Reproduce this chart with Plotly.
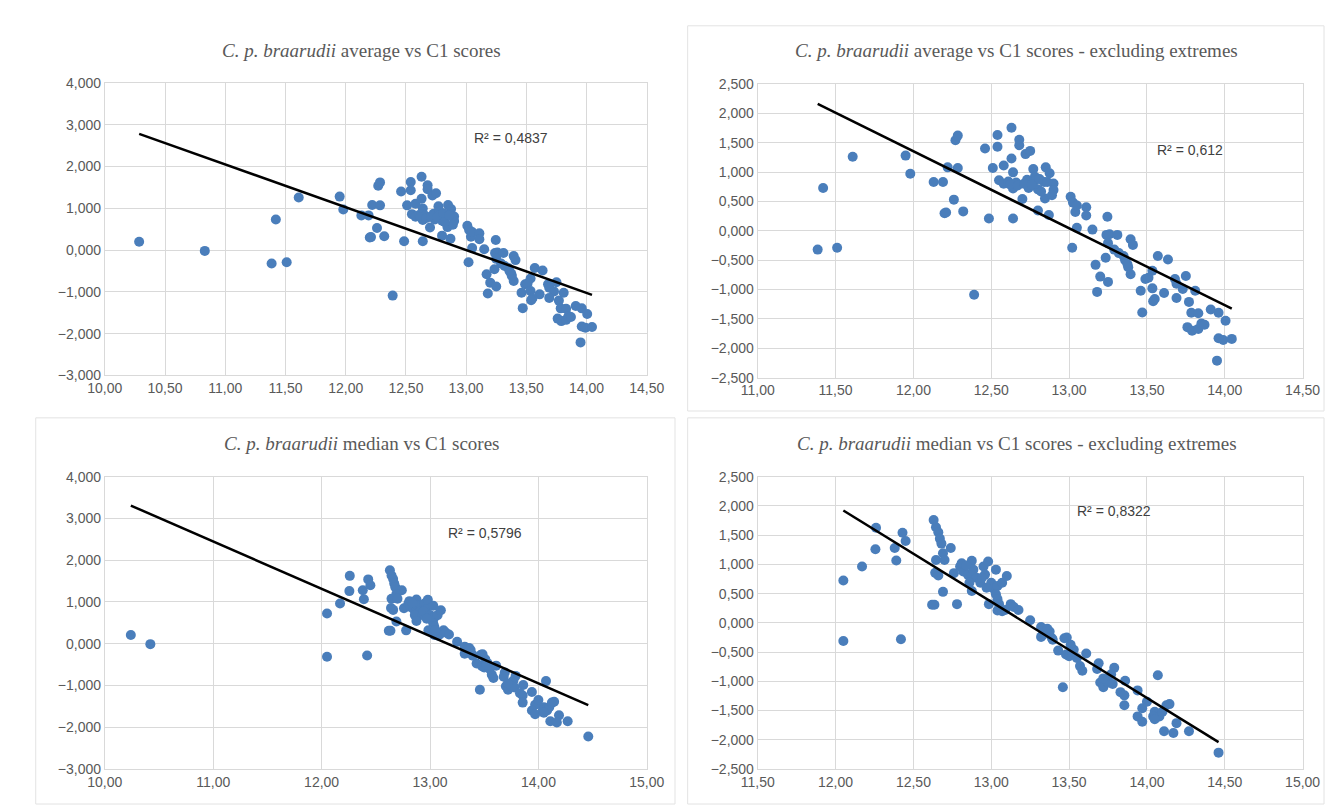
import numpy as np
import plotly.graph_objects as go

# ---------------- data ----------------
# C. p. braarudii average (x) vs C1 scores (y), extremes excluded
avg_x = [11.385, 11.42, 11.51, 11.61, 11.95, 11.98, 12.13, 12.19, 12.20, 12.21,
         12.22, 12.26, 12.27, 12.285, 12.285, 12.32, 12.39, 12.46, 12.485, 12.51,
         12.54, 12.54, 12.55, 12.58, 12.58, 12.61, 12.63, 12.63, 12.64, 12.64,
         12.64, 12.66, 12.68, 12.68, 12.70, 12.72, 12.75, 12.73, 12.74, 12.77,
         12.78, 12.775, 12.80, 12.80, 12.84, 12.85, 12.875, 12.845, 12.87, 12.90,
         12.90, 12.89, 12.62, 12.67, 12.71, 12.76, 12.81, 12.82, 12.86, 13.01,
         13.025, 13.04, 13.05, 13.11, 13.11, 13.05, 13.15, 13.02, 13.246, 13.24,
         13.26, 13.31, 13.25, 13.29, 13.235, 13.17, 13.20, 13.25, 13.18, 13.32,
         13.35, 13.375, 13.395, 13.395, 13.41, 13.57, 13.635, 13.535, 13.49, 13.51,
         13.46, 13.535, 13.61, 13.55, 13.54, 13.47, 13.68, 13.69, 13.73, 13.75,
         13.77, 13.81, 13.69, 13.785, 13.83, 13.76, 13.79, 13.83, 13.85, 13.87,
         13.91, 13.96, 14.005, 13.96, 13.99, 14.045, 13.95, 13.38, 13.36]
avg_y = [-0.32, 0.73, -0.29, 1.26, 1.28, 0.97, 0.83, 0.83, 0.30, 0.31,
         1.08, 0.53, 1.54, 1.62, 1.07, 0.33, -1.09, 1.40, 0.21, 1.07,
         1.63, 1.43, 0.86, 1.11, 0.80, 0.84, 1.755, 1.23, 0.995, 0.21,
         0.72, 0.82, 1.55, 1.455, 0.54, 1.305, 1.36, 0.87, 0.73, 1.05,
         0.92, 0.84, 0.345, 0.705, 0.83, 1.08, 0.98, 0.55, 0.27, 0.805,
         0.695, 0.605, 0.79, 0.77, 0.80, 0.79, 0.88, 0.67, 0.83, 0.58,
         0.48, 0.32, 0.43, 0.40, 0.26, 0.05, 0.02, -0.29, 0.24, -0.07,
         -0.06, -0.07, -0.21, -0.32, -0.46, -0.58, -0.78, -0.87, -1.04, -0.38,
         -0.43, -0.57, -0.74, -0.145, -0.24, -0.43, -0.49, -0.68, -0.82, -0.80,
         -1.02, -0.98, -1.06, -1.16, -1.20, -1.39, -0.82, -0.90, -0.99, -0.77,
         -1.21, -1.02, -1.145, -1.395, -1.405, -1.64, -1.70, -1.67, -1.58, -1.60,
         -1.34, -1.395, -1.53, -1.83, -1.86, -1.84, -2.21, -0.62, -0.50]
avg_ext_x = [10.285, 10.83]
avg_ext_y = [0.20, -0.02]

# C. p. braarudii median (x) vs C1 scores (y), extremes excluded
med_x = [12.05, 12.05, 12.17, 12.256, 12.26, 12.38, 12.39, 12.43, 12.45, 12.42,
         12.63, 12.645, 12.66, 12.67, 12.68, 12.74, 12.69, 12.645, 12.70, 12.64,
         12.66, 12.69, 12.62, 12.635, 12.78, 12.76, 12.80, 12.82, 12.81, 12.875,
         12.85, 12.875, 12.885, 12.905, 12.86, 12.93, 12.875, 12.95, 12.98, 12.96,
         12.94, 13.03, 13.00, 13.02, 13.04, 13.07, 13.10, 13.03, 13.04, 12.985,
         13.04, 13.07, 13.09, 13.125, 13.145, 13.175, 13.25, 13.32, 13.33, 13.375,
         13.39, 13.43, 13.47, 13.48, 13.32, 13.395, 13.485, 13.51, 13.53, 13.50,
         13.55, 13.46, 13.57, 13.585, 13.61, 13.69, 13.68, 13.79, 13.77, 13.70,
         13.72, 13.75, 13.78, 13.86, 13.83, 13.855, 13.855, 13.94, 13.97, 13.94,
         13.97, 14.00, 14.07, 14.05, 14.04, 14.08, 14.10, 14.125, 14.145, 14.19,
         14.05, 14.11, 14.17, 14.27, 14.46, 12.84, 12.97, 13.05, 13.36, 13.52,
         13.72]
med_y = [0.725, -0.31, 0.965, 1.26, 1.625, 1.28, 1.065, 1.54, 1.40, -0.28,
         1.76, 1.635, 1.55, 1.44, 1.355, 1.28, 1.19, 1.075, 1.075, 0.855,
         0.81, 0.53, 0.31, 0.31, 0.32, 0.85, 0.965, 0.88, 1.02, 1.06,
         0.825, 0.80, 0.91, 0.77, 0.685, 0.685, 0.545, 0.965, 1.05, 0.825,
         0.77, 0.91, 0.685, 0.57, 0.63, 0.685, 0.80, 0.49, 0.405, 0.32,
         0.21, 0.20, 0.22, 0.32, 0.27, 0.22, 0.045, -0.07, -0.21, -0.15,
         -0.265, -0.475, -0.265, -0.54, -0.24, -0.29, -0.25, -0.375, -0.46, -0.57,
         -0.60, -1.10, -0.74, -0.82, -0.525, -0.69, -0.79, -0.77, -0.88, -1.02,
         -1.10, -1.02, -1.045, -0.99, -1.185, -1.24, -1.41, -1.155, -1.46, -1.60,
         -1.69, -1.35, -0.895, -1.52, -1.60, -1.60, -1.52, -1.41, -1.39, -1.715,
         -1.65, -1.855, -1.885, -1.855, -2.22, 0.98, 0.60, 0.32, -0.10, -0.50,
         -0.95]
med_ext_x = [10.24, 10.42]
med_ext_y = [0.21, -0.01]

titles = ["<i>C. p. braarudii</i> average vs C1 scores",
          "<i>C. p. braarudii</i> average vs C1 scores - excluding extremes",
          "<i>C. p. braarudii</i> median vs C1 scores",
          "<i>C. p. braarudii</i> median vs C1 scores - excluding extremes"]
r2_labels = ["R² = 0,4837", "R² = 0,612", "R² = 0,5796", "R² = 0,8322"]

# ---------------- figure ----------------
W, H = 1335, 805
BLUE = "#4A7EBB"
GRID = "#D9D9D9"
TICKFONT = dict(family="Liberation Sans Narrow, Liberation Sans, Arial", size=14, color="#595959")

panels = [
    dict(x=avg_x + avg_ext_x, y=avg_y + avg_ext_y, xr=[10, 14.5], xd=0.5, yr=[-3, 4], yd=1,
         px=(81, 638), py=(68.3, 366.7), title_c=(345, 35), r2=(498, 124)),
    dict(x=avg_x, y=avg_y, xr=[11, 14.5], xd=0.5, yr=[-2.5, 2.5], yd=0.5,
         px=(752, 1312), py=(69.3, 369), title_c=(1018, 35), r2=(1196, 137)),
    dict(x=med_x + med_ext_x, y=med_y + med_ext_y, xr=[10, 15], xd=1, yr=[-3, 4], yd=1,
         px=(81, 638), py=(470, 768.3), title_c=(345, 436), r2=(472, 527)),
    dict(x=med_x, y=med_y, xr=[11.5, 15], xd=0.5, yr=[-2.5, 2.5], yd=0.5,
         px=(752, 1312), py=(470, 768.3), title_c=(1018, 436), r2=(1118, 505)),
]

fig = go.Figure()
annotations = []
shapes = []
layout = {}
for i, p in enumerate(panels):
    n = "" if i == 0 else str(i + 1)
    xa, ya = "x" + n, "y" + n
    xs = np.array(p["x"], dtype=float)
    ys = np.array(p["y"], dtype=float)
    fig.add_trace(go.Scatter(x=xs, y=ys, mode="markers", xaxis=xa, yaxis=ya,
                             marker=dict(color=BLUE, size=10, line=dict(width=0)),
                             showlegend=False, hoverinfo="x+y"))
    slope, icpt = np.polyfit(xs, ys, 1)
    lx = np.array([xs.min(), xs.max()])
    fig.add_trace(go.Scatter(x=lx, y=slope * lx + icpt, mode="lines", xaxis=xa, yaxis=ya,
                             line=dict(color="black", width=2.5), showlegend=False,
                             hoverinfo="skip"))
    layout["xaxis" + n] = dict(domain=[p["px"][0] / W, p["px"][1] / W], range=p["xr"],
                               dtick=p["xd"], tick0=p["xr"][0], tickformat=".2f",
                               showgrid=True, gridcolor=GRID, gridwidth=1, zeroline=False,
                               showline=True, linecolor=GRID, mirror=True,
                               ticks="", tickfont=TICKFONT, anchor=ya, fixedrange=True)
    layout["yaxis" + n] = dict(domain=[1 - p["py"][1] / H, 1 - p["py"][0] / H], range=p["yr"],
                               dtick=p["yd"], tick0=p["yr"][0], tickformat=".3f",
                               showgrid=True, gridcolor=GRID, gridwidth=1, zeroline=False,
                               showline=True, linecolor=GRID, mirror=True,
                               ticks="", tickfont=TICKFONT, anchor=xa, fixedrange=True)
    annotations.append(dict(text=titles[i], x=p["title_c"][0] / W, y=1 - p["title_c"][1] / H,
                            xref="paper", yref="paper", showarrow=False,
                            xanchor="center", yanchor="middle",
                            font=dict(family="Liberation Serif, Times New Roman, serif",
                                      size=19, color="#595959")))
    annotations.append(dict(text=r2_labels[i], x=p["r2"][0] / W, y=1 - p["r2"][1] / H,
                            xref="paper", yref="paper", showarrow=False,
                            xanchor="center", yanchor="middle",
                            font=dict(family="Liberation Sans Narrow, Liberation Sans, Arial",
                                      size=14, color="#404040")))

# chart-area frames
for (x0, y0, x1, y1) in [(680, 10, 1334, 403), (10, 410, 667, 804), (680, 410, 1334, 804)]:
    shapes.append(dict(type="rect", xref="paper", yref="paper",
                       x0=x0 / W, x1=x1 / W, y0=1 - y1 / H, y1=1 - y0 / H,
                       line=dict(color="#E3E3E3", width=1), fillcolor="rgba(0,0,0,0)"))

fig.update_layout(width=W, height=H, margin=dict(l=0, r=0, t=0, b=0),
                  paper_bgcolor="white", plot_bgcolor="white",
                  separators=",.", annotations=annotations, shapes=shapes,
                  showlegend=False, **layout)

fig.write_html("out.html")
